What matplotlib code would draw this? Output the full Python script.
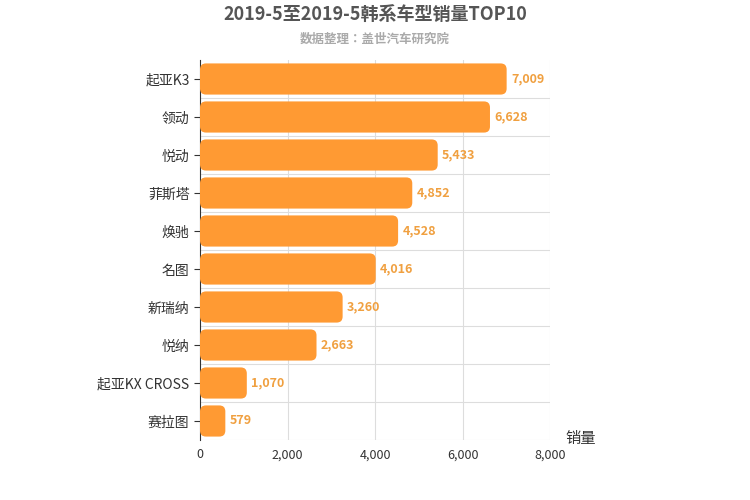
import matplotlib
matplotlib.use("Agg")
import matplotlib.pyplot as plt
from matplotlib.patches import FancyBboxPatch
from matplotlib import font_manager as fm

cjk = None
for f in fm.findSystemFonts():
    if "CJK" in f and ("SC" in f or "Sans" in f):
        try:
            fm.fontManager.addfont(f)
            name = fm.FontProperties(fname=f).get_name()
            if cjk is None or "SC" in name:
                cjk = name
        except Exception:
            pass
for nm in ["Noto Sans CJK SC"]:
    if any(e.name == nm for e in fm.fontManager.ttflist):
        cjk = nm
plt.rcParams["font.family"] = [cjk or "Noto Sans CJK SC", "DejaVu Sans"]

categories = ["起亚K3", "领动", "悦动", "菲斯塔", "焕驰", "名图", "新瑞纳", "悦纳", "起亚KX CROSS", "赛拉图"]
values = [7009, 6628, 5433, 4852, 4528, 4016, 3260, 2663, 1070, 579]
xticks = [0, 2000, 4000, 6000, 8000]

fig = plt.figure(figsize=(7.5, 5), dpi=100)
ax = fig.add_axes([200/750, 60/500, 350/750, 380/500])
n = len(categories)
ax.set_xlim(0, 8000)
ax.set_ylim(n, 0)

xu = 8000/350
yu = n/380
h = 0.82
for i, v in enumerate(values):
    y0 = i + (1-h)/2
    p = FancyBboxPatch((0, y0), v, h, boxstyle="round,pad=0,rounding_size=%f" % (6*xu),
                       mutation_aspect=yu/xu, fc="#ff9a33", ec="none", zorder=3)
    ax.add_patch(p)
    ax.text(v + 100, i + 0.5, f"{v:,}", va="center", ha="left", fontsize=9,
            color="#f0a040", fontweight="bold", zorder=4)

ax.set_yticks([i + 0.5 for i in range(n)])
ax.set_yticklabels(categories, fontsize=10, color="#333333")
ax.set_xticks(xticks)
ax.set_xticklabels([f"{t:,}" for t in xticks], fontsize=9, color="#333333")
for x in xticks[1:]:
    ax.axvline(x, color="#dddddd", lw=0.8, zorder=1)
for y in range(1, n+1):
    ax.axhline(y, color="#dddddd", lw=0.8, zorder=1)
for s in ["top", "right", "bottom"]:
    ax.spines[s].set_visible(False)
ax.spines["left"].set_color("#333333")
ax.tick_params(axis="y", length=4, color="#333333")
ax.tick_params(axis="x", length=0, pad=6)

fig.text(0.5, 1-14/500, "2019-5至2019-5韩系车型销量TOP10", ha="center", va="center",
         fontsize=13, fontweight="bold", color="#555555")
fig.text(0.5, 1-39/500, "数据整理：盖世汽车研究院", ha="center", va="center",
         fontsize=9, fontweight="bold", color="#aaaaaa")
fig.text(565/750, 1-438/500, "销量", ha="left", va="center", fontsize=11, color="#333333")

fig.savefig("out.png", dpi=100, facecolor="white")
